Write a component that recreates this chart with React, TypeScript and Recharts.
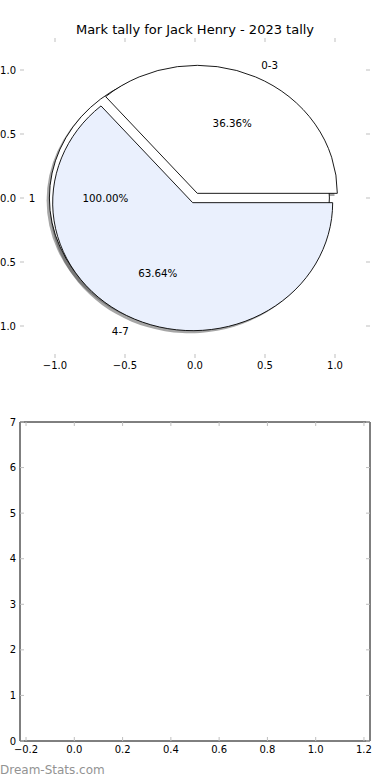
import React from "react";
import { PieChart, Pie, Cell, ScatterChart, XAxis, YAxis } from "recharts";

const tallyLabels = ["0-3", "4-7"];
const tallyValues = [4, 7];
const tallyColors = ["#ffffff", "#eaf0fd"];
const wholeLabels = ["1"];
const wholeValues = [1];
const pieTicks = [-1, -0.5, 0, 0.5, 1];
const emptyYTicks = [0, 1, 2, 3, 4, 5, 6, 7];
const emptyXTicks = [-0.2, 0, 0.2, 0.4, 0.6, 0.8, 1.0, 1.2];

const tallyData = tallyLabels.map((label, i) => ({ label, value: tallyValues[i] }));
const wholeData = wholeLabels.map((label, i) => ({ label, value: wholeValues[i] }));

const FONT = "'DejaVu Sans', sans-serif";
const TICK_COLOR = "#bfbfbf";
const TICK_FONT = 10;
const PIE_FONT = 10.3;
const M = 4; // tick margin

// top axes: plot area x 20..370, y 38..358, limits +-1.25
const TOP_W = 390;
const TOP_H = 380;
const PL = 20;
const PR = 20;
const PT = 38;
const PB = 22;
const LIM = 1.25;
const RX = (TOP_W - PL - PR) / (2 * LIM);
const RY = (TOP_H - PT - PB) / (2 * LIM);
const CX = PL + (TOP_W - PL - PR) / 2;
const CY = PT + (TOP_H - PT - PB) / 2;
const EXPLODE = 0.04;
const RAD = Math.PI / 180;

const fmt1 = (v: number) => v.toFixed(1).replace("-", "\u2212");

const ellipsePath = (cx: number, cy: number, a0: number, a1: number) => {
  const pt = (a: number) => [cx + RX * Math.cos(a * RAD), cy - RY * Math.sin(a * RAD)];
  const lo = Math.min(a0, a1);
  const hi = Math.max(a0, a1);
  if (hi - lo >= 359.99) {
    const [x0, y0] = pt(lo);
    const [xm, ym] = pt(lo + 180);
    return `M${x0},${y0} A${RX},${RY} 0 1 0 ${xm},${ym} A${RX},${RY} 0 1 0 ${x0},${y0} Z`;
  }
  const [x0, y0] = pt(lo);
  const [x1, y1] = pt(hi);
  const large = hi - lo > 180 ? 1 : 0;
  return `M${cx},${cy} L${x0},${y0} A${RX},${RY} 0 ${large} 0 ${x1},${y1} Z`;
};

const explodedCenter = (cx: number, cy: number, mid: number) => [
  cx + EXPLODE * RX * Math.cos(mid * RAD),
  cy - EXPLODE * RY * Math.sin(mid * RAD),
];

// wedge drawn as an ellipse, matplotlib's pie is not square here
const makeShape = (kind: "body" | "shadow" | "none") => (props: any) => {
  if (kind === "none") return <g />;
  const { cx, cy, startAngle, endAngle, fill } = props;
  const mid = (startAngle + endAngle) / 2;
  let [ox, oy] = explodedCenter(cx, cy, mid);
  if (kind === "shadow") {
    ox -= 0.02 * RX;
    oy += 0.02 * RY;
    return <path d={ellipsePath(ox, oy, startAngle, endAngle)} fill="#4d4d4d" fillOpacity={0.5} stroke="none" />;
  }
  return <path d={ellipsePath(ox, oy, startAngle, endAngle)} fill={fill} stroke="#000" strokeWidth={0.9} />;
};

const makeLabel = (labels: string[], values: number[]) => (props: any) => {
  const { cx, cy, midAngle, index } = props;
  const total = values.reduce((a, b) => a + b, 0);
  const c = Math.cos(midAngle * RAD);
  const s = Math.sin(midAngle * RAD);
  const [ox, oy] = explodedCenter(cx, cy, midAngle);
  return (
    <g>
      <text
        x={ox + 1.1 * RX * c}
        y={oy - 1.1 * RY * s}
        textAnchor={c > 0.0001 ? "start" : "end"}
        dominantBaseline="central"
        fontSize={PIE_FONT}
        fill="#000"
      >
        {labels[index]}
      </text>
      <text
        x={ox + 0.6 * RX * c}
        y={oy - 0.6 * RY * s}
        textAnchor="middle"
        dominantBaseline="central"
        fontSize={PIE_FONT}
        fill="#000"
      >
        {`${((values[index] / total) * 100).toFixed(2)}%`}
      </text>
    </g>
  );
};

// inward tick marks, matplotlib classic style
const LeftTick = (p: any, fmt: (v: number) => string) => (
  <g>
    <line x1={p.x + M} x2={p.x + M + 4} y1={p.y} y2={p.y} stroke={TICK_COLOR} strokeWidth={1} />
    <text x={p.x} y={p.y} textAnchor="end" dominantBaseline="central" fontSize={TICK_FONT} fill="#000">
      {fmt(p.payload.value)}
    </text>
  </g>
);
const RightTick = (p: any) => (
  <line x1={p.x - M} x2={p.x - M - 4} y1={p.y} y2={p.y} stroke={TICK_COLOR} strokeWidth={1} />
);
const BottomTick = (p: any, fmt: (v: number) => string, drop: number) => (
  <g>
    <line x1={p.x} x2={p.x} y1={p.y - M} y2={p.y - M - 4} stroke={TICK_COLOR} strokeWidth={1} />
    <text x={p.x} y={p.y - M + drop} textAnchor="middle" dominantBaseline="central" fontSize={TICK_FONT} fill="#000">
      {fmt(p.payload.value)}
    </text>
  </g>
);
const TopTick = (p: any) => (
  <line x1={p.x} x2={p.x} y1={p.y + M} y2={p.y + M + 4} stroke={TICK_COLOR} strokeWidth={1} />
);

const AxesFrame = ({ width, height, box, xDomain, yDomain, xTicks, yTicks, yFmt, spines, drop }: any) => {
  const line = spines ? { stroke: "#000", strokeWidth: 1 } : false;
  // rows only feed the axes, nothing is plotted here
  const rows = xTicks.map((x: number) => ({ x }));
  const common = {
    type: "number" as const,
    allowDataOverflow: true,
    interval: 0,
    axisLine: line,
    tickLine: false,
    tickSize: 0,
    tickMargin: M,
  };
  return (
    <ScatterChart width={width} height={height} data={rows} margin={{ top: 0, right: 0, bottom: 0, left: 0 }}>
      <XAxis {...common} xAxisId="b" dataKey="x" orientation="bottom" height={box.bottom} domain={xDomain} ticks={xTicks} tick={(p: any) => BottomTick(p, fmt1, drop)} />
      <XAxis {...common} xAxisId="t" dataKey="x" orientation="top" height={box.top} domain={xDomain} ticks={xTicks} tick={TopTick} />
      <YAxis {...common} yAxisId="l" orientation="left" width={box.left} domain={yDomain} ticks={yTicks} tick={(p: any) => LeftTick(p, yFmt)} />
      <YAxis {...common} yAxisId="r" orientation="right" width={box.right} domain={yDomain} ticks={yTicks} tick={RightTick} />
    </ScatterChart>
  );
};

const pieCommon = {
  cx: CX,
  cy: CY,
  outerRadius: RX,
  startAngle: 0,
  endAngle: 360,
  dataKey: "value",
  nameKey: "label",
  isAnimationActive: false,
  labelLine: false,
};

export default function App() {
  return (
    <div style={{ position: "absolute", left: 0, top: 0, width: 390, height: 780, fontFamily: FONT, background: "#fff" }}>
      <div style={{ position: "absolute", left: 0, top: 0 }}>
        <AxesFrame
          width={TOP_W}
          height={TOP_H}
          box={{ left: PL, right: PR, top: PT, bottom: PB }}
          xDomain={[-LIM, LIM]}
          yDomain={[-LIM, LIM]}
          xTicks={pieTicks}
          yTicks={pieTicks}
          yFmt={fmt1}
          spines={false}
          drop={7}
        />
      </div>
      <div style={{ position: "absolute", left: 0, top: 0 }}>
        <PieChart width={TOP_W} height={TOP_H} margin={{ top: 0, right: 0, bottom: 0, left: 0 }}>
          <Pie {...pieCommon} data={wholeData} shape={makeShape("shadow")} activeShape={makeShape("shadow")} inactiveShape={makeShape("shadow")} />
          <Pie {...pieCommon} data={tallyData} shape={makeShape("shadow")} activeShape={makeShape("shadow")} inactiveShape={makeShape("shadow")} />
          <Pie {...pieCommon} data={wholeData} fill="#ffffff" shape={makeShape("body")} activeShape={makeShape("body")} inactiveShape={makeShape("body")} />
          <Pie
            {...pieCommon}
            data={tallyData}
            shape={makeShape("body")}
            activeShape={makeShape("body")}
            inactiveShape={makeShape("body")}
            label={makeLabel(tallyLabels, tallyValues)}
          >
            {tallyData.map((d, i) => (
              <Cell key={d.label} fill={tallyColors[i]} />
            ))}
          </Pie>
          <Pie
            {...pieCommon}
            data={wholeData}
            shape={makeShape("none")}
            activeShape={makeShape("none")}
            inactiveShape={makeShape("none")}
            label={makeLabel(wholeLabels, wholeValues)}
          />
        </PieChart>
      </div>
      <div
        style={{
          position: "absolute",
          left: 0,
          top: 22,
          width: 390,
          textAlign: "center",
          fontSize: 13,
          lineHeight: "16px",
        }}
      >
        Mark tally for Jack Henry - 2023 tally
      </div>
      <div style={{ position: "absolute", left: 0, top: 380 }}>
        <AxesFrame
          width={390}
          height={400}
          box={{ left: 20, right: 20, top: 42, bottom: 39 }}
          xDomain={[-0.225, 1.225]}
          yDomain={[0, 7]}
          xTicks={emptyXTicks}
          yTicks={emptyYTicks}
          yFmt={(v: number) => String(v)}
          spines={true}
          drop={8.5}
        />
      </div>
      <div
        style={{
          position: "absolute",
          left: 0,
          top: 762,
          fontSize: 12,
          lineHeight: "16px",
          color: "#939393",
        }}
      >
        Dream-Stats.com
      </div>
    </div>
  );
}
